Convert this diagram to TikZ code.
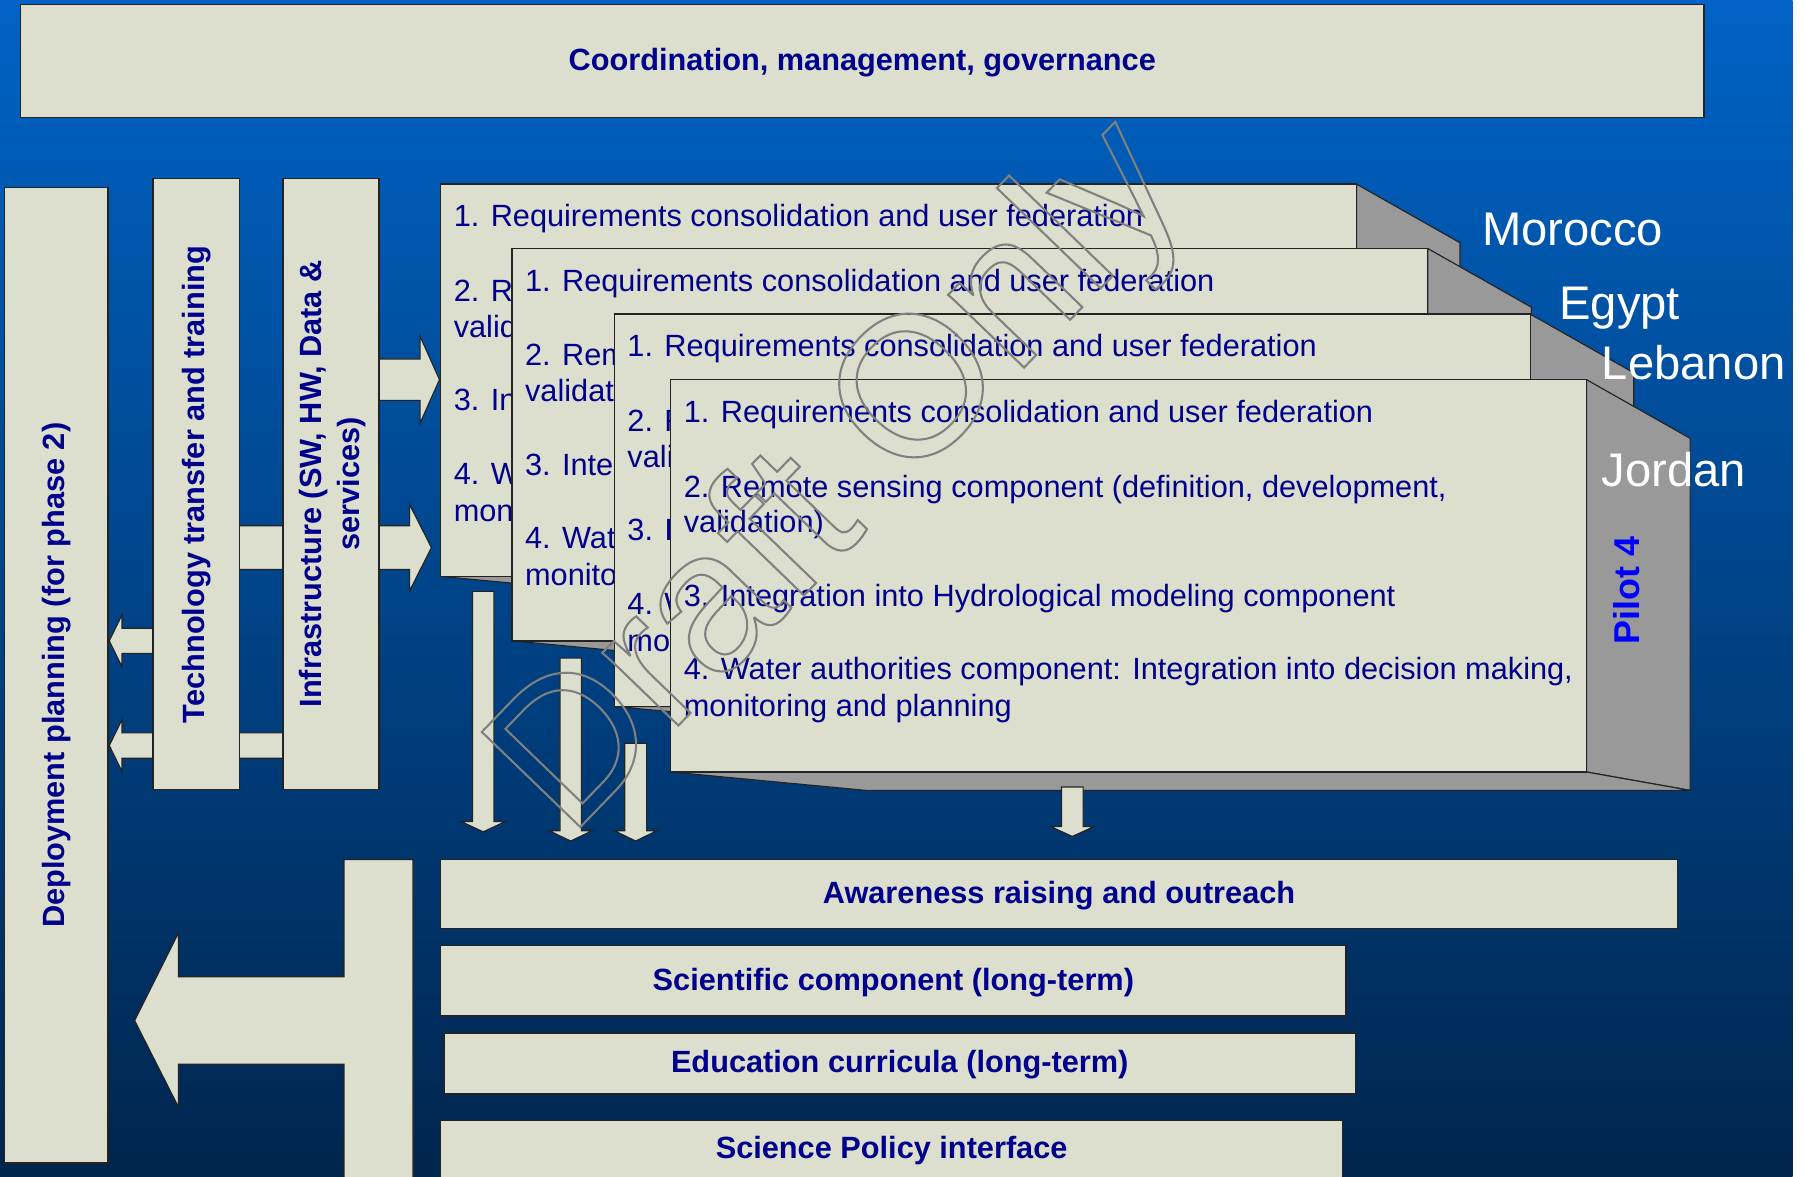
\documentclass[tikz,border=0pt]{standalone}
\usepackage{fontspec}
\setmainfont{Liberation Sans}
\usetikzlibrary{calc}
\definecolor{bgtop}{RGB}{0,99,197}
\definecolor{bgbot}{RGB}{0,37,77}
\definecolor{panelfill}{RGB}{220,223,205}
\definecolor{sidegray}{RGB}{153,153,153}
\definecolor{navytext}{RGB}{0,0,140}
\definecolor{edgecol}{RGB}{35,35,35}
\definecolor{wmgray}{RGB}{128,128,128}
\newcommand\myboldfont{\fontsize{13.35}{16.5}\selectfont\bfseries}
\newcommand\mytextfont{\fontsize{13.35}{16}\selectfont}
\newcommand\panelat[7][]{%
  \node[panel,minimum width={(#5-#3)*0.5pt},minimum height={(#6-#4)*0.5pt},#1] (#2) at ({(#3+#5)/2},{(#4+#6)/2}) {\raisebox{-4pt}[0pt][0pt]{#7}};}
\newcommand\varrow[6]{% cx, top, shaft half, head half, head base, tip
  \filldraw[blockarrow] ({#1-#3},#2) -- ({#1+#3},#2) -- ({#1+#3},#5) -- ({#1+#4},#5) -- (#1,#6) -- ({#1-#4},#5) -- ({#1-#3},#5) -- cycle;}
\newcommand\harrow[6]{% cy, start x, shaft half, head half, head base x, tip x
  \filldraw[blockarrow] (#2,{#1-#3}) -- (#5,{#1-#3}) -- (#5,{#1-#4}) -- (#6,#1) -- (#5,{#1+#4}) -- (#5,{#1+#3}) -- (#2,{#1+#3}) -- cycle;}
\newcommand\pilotbox[3]{% name, x, y
  \filldraw[sideface] ({#2+796},#3) -- ({#2+886},{#3+51}) -- ({#2+886},{#3+357}) -- ({#2+796},{#3+341}) -- cycle;
  \filldraw[sideface] (#2,{#3+341}) -- ({#2+170},{#3+357}) -- ({#2+886},{#3+357}) -- ({#2+796},{#3+341}) -- cycle;
  \node[panel,minimum width=398pt,minimum height=170.5pt,anchor=north west] (#1) at (#2,#3) {};
  \node[ptext] (#1a) at ({#2+11},{#3+37}) {1. Requirements consolidation and user federation};
  \node[ptext] (#1b) at ({#2+11},{#3+102}) {2. Remote sensing component (definition, development,};
  \node[ptext] (#1c) at ({#2+11},{#3+133}) {validation)};
  \node[ptext] (#1d) at ({#2+11},{#3+197}) {3. Integration into Hydrological modeling component};
  \node[ptext] (#1e) at ({#2+11},{#3+261}) {4. Water authorities component: Integration into decision making,};
  \node[ptext] (#1f) at ({#2+11},{#3+293}) {monitoring and planning};}
\begin{document}
\begin{tikzpicture}[x=0.5pt,y=-0.5pt,
  panel/.style={draw=edgecol,line width=0.6pt,fill=panelfill,inner sep=0pt,outer sep=0pt,text=navytext,font=\myboldfont},
  ptext/.style={text=navytext,font=\mytextfont,anchor=base west,inner sep=0pt},
  vtext/.style={rotate=90,text=navytext,font=\myboldfont,inner sep=0pt},
  country/.style={text=white,font=\fontsize{20.5}{24}\selectfont,anchor=base west,inner sep=0pt},
  blockarrow/.style={draw=edgecol,line width=0.5pt,fill=panelfill,line join=miter},
  sideface/.style={draw=edgecol,line width=0.5pt,fill=sidegray,line join=round}]
\useasboundingbox (0,0) rectangle (1568,1023);
\fill[white] (0,0) rectangle (1568,1023);
\shade[top color=bgtop,bottom color=bgbot] (0,0) rectangle (1558,1023);

% arrows between the left columns and the pilots
\harrow{330}{329}{18}{38}{365}{382}
\harrow{476}{208}{19}{37.5}{356}{375}
\harrow{557}{133}{11}{22.5}{106}{95}
\harrow{648}{246}{11}{22.5}{106}{95}

% left columns
\panelat{deploy}{4}{163}{94}{1011}{}
\node[vtext] (deploytxt) at (49,587) {Deployment planning (for phase 2)};
\panelat{tech}{133}{155}{208}{686}{}
\node[vtext] (techtxt) at (171,421) {Technology transfer and training};
\panelat{infra}{246}{155}{329.5}{686}{}
\node[vtext,align=center] (infratxt) at (289,420.5) {Infrastructure (SW, HW, Data \&\\services)};

% top box
\panelat{top}{18}{4}{1481}{102}{Coordination, management, governance}

% pilot boxes
\pilotbox{pa}{383}{160}
\pilotbox{pb}{445}{216}
\pilotbox{pc}{534}{273}
\pilotbox{pd}{583}{330}

% down arrows
\varrow{420}{514}{9.3}{19.3}{714}{723}
\varrow{496}{572}{9.3}{18.7}{722}{731}
\varrow{552.5}{646}{9.5}{18.5}{722}{731}
\varrow{932}{684}{9.4}{18.7}{718.5}{727}

% T-shaped arrow to deployment
\filldraw[blockarrow] (359,747) -- (299,747) -- (299,849) -- (155,849) -- (155,811) -- (117,887) -- (155,962) -- (155,925) -- (299,925) -- (299,1035) -- (359,1035) -- cycle;

% bottom boxes
\panelat{aware}{383}{747}{1458}{807}{Awareness raising and outreach}
\panelat{sci}{383}{822}{1170}{883}{Scientific component (long-term)}
\panelat{edu}{386}{898}{1178}{951}{Education curricula (long-term)}
\panelat{policy}{383}{974}{1167}{1024}{Science Policy interface}

% labels
\node[country] (morocco) at (1288,213) {Morocco};
\node[country] (egypt) at (1355,277.6) {Egypt};
\node[country] (lebanon) at (1392,330) {Lebanon};
\node[country] (jordan) at (1392,422.5) {Jordan};
\node[rotate=90,text=blue,font=\fontsize{15.6}{18}\selectfont\bfseries,inner sep=0pt] (pilot) at (1414,513.5) {Pilot 4};

% watermark
\node[rotate=46,anchor=base,inner sep=0pt,text=wmgray,font=\fontsize{86.5}{90}\selectfont] (wm) at (765,449) {\special{pdf:literal direct 1 Tr 0.9 w}Draft Only\special{pdf:literal direct 0 Tr}};
\end{tikzpicture}
\end{document}
